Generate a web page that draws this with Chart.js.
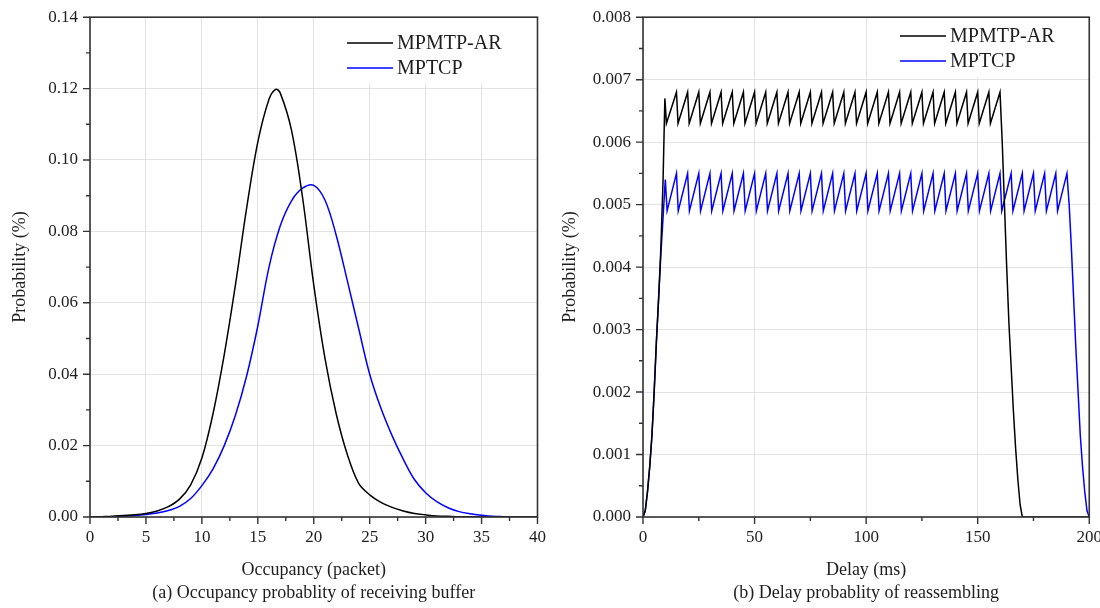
<!DOCTYPE html>
<html>
<head>
<meta charset="utf-8">
<script src="https://cdn.jsdelivr.net/npm/chart.js@4/dist/chart.umd.min.js"></script>
<style>
  html, body { margin: 0; padding: 0; background: #fff; overflow: hidden; }
  #wrap { position: relative; width: 1100px; height: 608px; overflow: hidden; }
  #left { position: absolute; left: 0; top: -5px; }
  #right { position: absolute; left: 550px; top: -5px; }
</style>
</head>
<body>
<div id="wrap">
  <canvas id="left" width="556" height="613"></canvas>
  <canvas id="right" width="562" height="613"></canvas>
</div>
<script>
//series names used in both panels
var seriesNames = ['MPMTP-AR', 'MPTCP'];

//(a) occupancy of receiving buffer, x in packets
var occX_AR = [0,1,2,3,4,5,6,7,8,9,10,11,12,13,14,15,16,16.6,17,18,19,20,
  21,22,23,24,25,26,27,28,29,30,31,32,33,34,35,36,37,38,39,40];
var occY_AR = [0,0.0001,0.0002,0.0004,0.0006,0.0010,0.0017,0.0029,0.0050,0.0090,
  0.0165,0.0290,0.0455,0.0650,0.0865,0.1050,0.1170,0.1198,0.1188,0.1085,0.0895,0.0650,
  0.0445,0.0290,0.0175,0.0095,0.0062,0.0041,0.0027,0.0017,0.0010,0.0006,0.0003,0.0002,
  0.0001,0.0001,0,0,0,0,0,0];

var occX_TCP = [0,1,2,3,4,5,6,7,8,9,10,11,12,13,14,15,16,17,18,19,20,
  21,22,23,24,25,26,27,28,29,30,31,32,33,34,35,36,37,38,39,40];
var occY_TCP = [0,0,0.0001,0.0002,0.0004,0.0007,0.0011,0.0018,0.0030,0.0052,
  0.0088,0.0135,0.0200,0.0285,0.0395,0.0535,0.0700,0.0815,0.0885,0.0921,0.0929,
  0.0888,0.0790,0.0662,0.0530,0.0400,0.0305,0.0228,0.0162,0.0105,0.0068,0.0043,0.0026,
  0.0015,0.0009,0.0005,0.0002,0.0001,0,0,0];

//(b) delay of reassembling, x in ms
var delayX_AR = [0,1,2,3,4,5,6,7,8,9,9.8,10.5,
  15,15.7,20,20.7,25,25.7,30,30.7,35,35.7,40,40.7,45,45.7,50,50.7,55,55.7,
  60,60.7,65,65.7,70,70.7,75,75.7,80,80.7,85,85.7,90,90.7,95,95.7,100,100.7,
  105,105.7,110,110.7,115,115.7,120,120.7,125,125.7,130,130.7,135,135.7,140,140.7,
  145,145.7,150,150.7,155,155.7,160,
  161,162,163,164,165,166,167,168,169,170,200];
var delayY_AR = [0,0.0001,0.0004,0.0008,0.0013,0.0020,0.0028,0.0035,0.0043,0.0054,0.0067,0.0063,
  0.0068,0.0063,0.0068,0.0063,0.0068,0.0063,0.0068,0.0063,0.0068,0.0063,0.0068,0.0063,0.0068,0.0063,0.0068,0.0063,0.0068,0.0063,
  0.0068,0.0063,0.0068,0.0063,0.0068,0.0063,0.0068,0.0063,0.0068,0.0063,0.0068,0.0063,0.0068,0.0063,0.0068,0.0063,0.0068,0.0063,
  0.0068,0.0063,0.0068,0.0063,0.0068,0.0063,0.0068,0.0063,0.0068,0.0063,0.0068,0.0063,0.0068,0.0063,0.0068,0.0063,
  0.0068,0.0063,0.0068,0.0063,0.0068,0.0063,0.0068,
  0.0060,0.0050,0.0040,0.0031,0.0024,0.0017,0.0011,0.0006,0.0002,0,0];

var delayX_TCP = [0,1,2,3,4,5,6,7,8,9,10,10.8,
  15,15.8,20,20.8,25,25.8,30,30.8,35,35.8,40,40.8,45,45.8,50,50.8,55,55.8,
  60,60.8,65,65.8,70,70.8,75,75.8,80,80.8,85,85.8,90,90.8,95,95.8,100,100.8,
  105,105.8,110,110.8,115,115.8,120,120.8,125,125.8,130,130.8,135,135.8,140,140.8,145,145.8,
  150,150.8,155,155.8,160,160.8,165,165.8,170,170.8,175,175.8,180,180.8,185,185.8,
  190,
  191,192,193,194,195,196,197,198,199,200];
var delayY_TCP = [0,0.0001,0.0004,0.0008,0.0013,0.0020,0.0028,0.0035,0.0042,0.0048,0.0054,0.0049,
  0.0055,0.0049,0.0055,0.0049,0.0055,0.0049,0.0055,0.0049,0.0055,0.0049,0.0055,0.0049,0.0055,0.0049,0.0055,0.0049,0.0055,0.0049,
  0.0055,0.0049,0.0055,0.0049,0.0055,0.0049,0.0055,0.0049,0.0055,0.0049,0.0055,0.0049,0.0055,0.0049,0.0055,0.0049,0.0055,0.0049,
  0.0055,0.0049,0.0055,0.0049,0.0055,0.0049,0.0055,0.0049,0.0055,0.0049,0.0055,0.0049,0.0055,0.0049,0.0055,0.0049,0.0055,0.0049,
  0.0055,0.0049,0.0055,0.0049,0.0055,0.0049,0.0055,0.0049,0.0055,0.0049,0.0055,0.0049,0.0055,0.0049,0.0055,0.0049,
  0.0055,
  0.0050,0.0043,0.0035,0.0027,0.0020,0.0013,0.0008,0.0004,0.0001,0];

var FONT = "'Liberation Serif', 'Times New Roman', serif";
var TEXT = '#1e1e1e';
var AXIS = '#333333';
var GRID = '#e3e3e3';

//true when value sits on a major tick
function isMajor(v, step)
{
    var r = v / step;
    return Math.abs(r - Math.round(r)) < 1e-6;
}

function toPoints(xs, ys)
{
    return xs.map(function (x, i) { return {x: x, y: ys[i]}; });
}

//draws legend box, frame and major/minor tick marks
var frameTicks = {
    id: 'frameTicks',
    afterDraw: function (chart, args, opts)
    {
        var ctx = chart.ctx;
        var a = chart.chartArea;
        var sx = chart.scales.x;
        var sy = chart.scales.y;
        ctx.save();

        //legend inside the plot
        var lg = opts.legend;
        ctx.fillStyle = '#fff';
        ctx.fillRect(lg.boxLeft, a.top + 1, a.right - 2 - lg.boxLeft, lg.boxBottom - a.top);
        ctx.font = '20px ' + FONT;
        ctx.textBaseline = 'middle';
        chart.data.datasets.forEach(function (ds, i) {
            var y = lg.rows[i];
            ctx.strokeStyle = ds.borderColor;
            ctx.lineWidth = 1.5;
            ctx.beginPath();
            ctx.moveTo(lg.x, y);
            ctx.lineTo(lg.x + 46, y);
            ctx.stroke();
            ctx.fillStyle = TEXT;
            ctx.fillText(ds.label, lg.x + 50, y + 1);
        });

        //frame
        ctx.strokeStyle = AXIS;
        ctx.lineWidth = 1.6;
        ctx.strokeRect(a.left, a.top, a.right - a.left, a.bottom - a.top);

        //ticks outside on bottom and left
        ctx.lineWidth = 1.4;
        ctx.beginPath();
        sx.ticks.forEach(function (t) {
            var px = sx.getPixelForValue(t.value);
            var len = isMajor(t.value, opts.xMajor) ? 7 : 4;
            ctx.moveTo(px, a.bottom);
            ctx.lineTo(px, a.bottom + len);
        });
        sy.ticks.forEach(function (t) {
            var py = sy.getPixelForValue(t.value);
            var len = isMajor(t.value, opts.yMajor) ? 7 : 4;
            ctx.moveTo(a.left, py);
            ctx.lineTo(a.left - len, py);
        });
        ctx.stroke();
        ctx.restore();
    }
};

function makeChart(id, cfg)
{
    var tickFont = {family: FONT, size: 17};
    var titleFont = {family: FONT, size: 18, lineHeight: 1.3};
    return new Chart(document.getElementById(id), {
        type: 'line',
        data: {datasets: cfg.datasets},
        options: {
            responsive: false,
            animation: false,
            events: [],
            layout: {padding: {top: 12, right: cfg.padRight, left: 0, bottom: 0}},
            plugins: {
                legend: {display: false},
                tooltip: {enabled: false},
                frameTicks: {xMajor: cfg.xMajor, yMajor: cfg.yMajor, legend: cfg.legend}
            },
            scales: {
                x: {
                    type: 'linear',
                    min: cfg.xMin, max: cfg.xMax,
                    ticks: {
                        stepSize: cfg.xMinor, autoSkip: false, maxRotation: 0,
                        padding: 10, color: TEXT, font: tickFont,
                        callback: function (v) { return isMajor(v, cfg.xMajor) ? String(Math.round(v)) : ''; }
                    },
                    grid: {
                        drawTicks: false, lineWidth: 1,
                        color: function (c) { return c.tick && isMajor(c.tick.value, cfg.xMajor) ? GRID : 'rgba(0,0,0,0)'; }
                    },
                    border: {display: false},
                    title: {display: true, text: cfg.xTitle, color: TEXT, font: titleFont, padding: {top: 4, bottom: 3}},
                    afterFit: function (s) { s.height = 91; }
                },
                y: {
                    type: 'linear',
                    min: 0, max: cfg.yMax,
                    ticks: {
                        stepSize: cfg.yMinor, autoSkip: false,
                        padding: 12, color: TEXT, font: tickFont,
                        callback: function (v) { return isMajor(v, cfg.yMajor) ? v.toFixed(cfg.yDigits) : ''; }
                    },
                    grid: {
                        drawTicks: false, lineWidth: 1,
                        color: function (c) { return c.tick && isMajor(c.tick.value, cfg.yMajor) ? GRID : 'rgba(0,0,0,0)'; }
                    },
                    border: {display: false},
                    title: {display: true, text: 'Probability (%)', color: TEXT, font: titleFont, padding: {top: 9}},
                    afterFit: function (s) { s.width = cfg.yWidth; }
                }
            }
        },
        plugins: [frameTicks]
    });
}

function lineSet(label, color, xs, ys, tension)
{
    return {
        label: label,
        data: toPoints(xs, ys),
        borderColor: color,
        borderWidth: 1.5,
        pointRadius: 0,
        fill: false,
        tension: tension
    };
}

//canvases sit 5px above the page top, so legend rows are given in canvas pixels
makeChart('left', {
    datasets: [
        lineSet(seriesNames[0], '#000000', occX_AR, occY_AR, 0.35),
        lineSet(seriesNames[1], '#0000ff', occX_TCP, occY_TCP, 0.35)
    ],
    xMin: 0, xMax: 40, xMinor: 2.5, xMajor: 5,
    yMax: 0.14, yMinor: 0.01, yMajor: 0.02, yDigits: 2,
    yWidth: 90, padRight: 13,
    xTitle: ['Occupancy (packet)', '(a) Occupancy probablity of receiving buffer'],
    legend: {x: 347, rows: [48, 73], boxLeft: 337, boxBottom: 87}
});

makeChart('right', {
    datasets: [
        lineSet(seriesNames[0], '#000000', delayX_AR, delayY_AR, 0),
        lineSet(seriesNames[1], '#0000ff', delayX_TCP, delayY_TCP, 0)
    ],
    xMin: 0, xMax: 200, xMinor: 25, xMajor: 50,
    yMax: 0.008, yMinor: 0.0005, yMajor: 0.001, yDigits: 3,
    yWidth: 93, padRight: 20,
    xTitle: ['Delay (ms)', '(b) Delay probablity of reassembling'],
    legend: {x: 350, rows: [41, 66], boxLeft: 340, boxBottom: 81}
});
</script>
</body>
</html>
